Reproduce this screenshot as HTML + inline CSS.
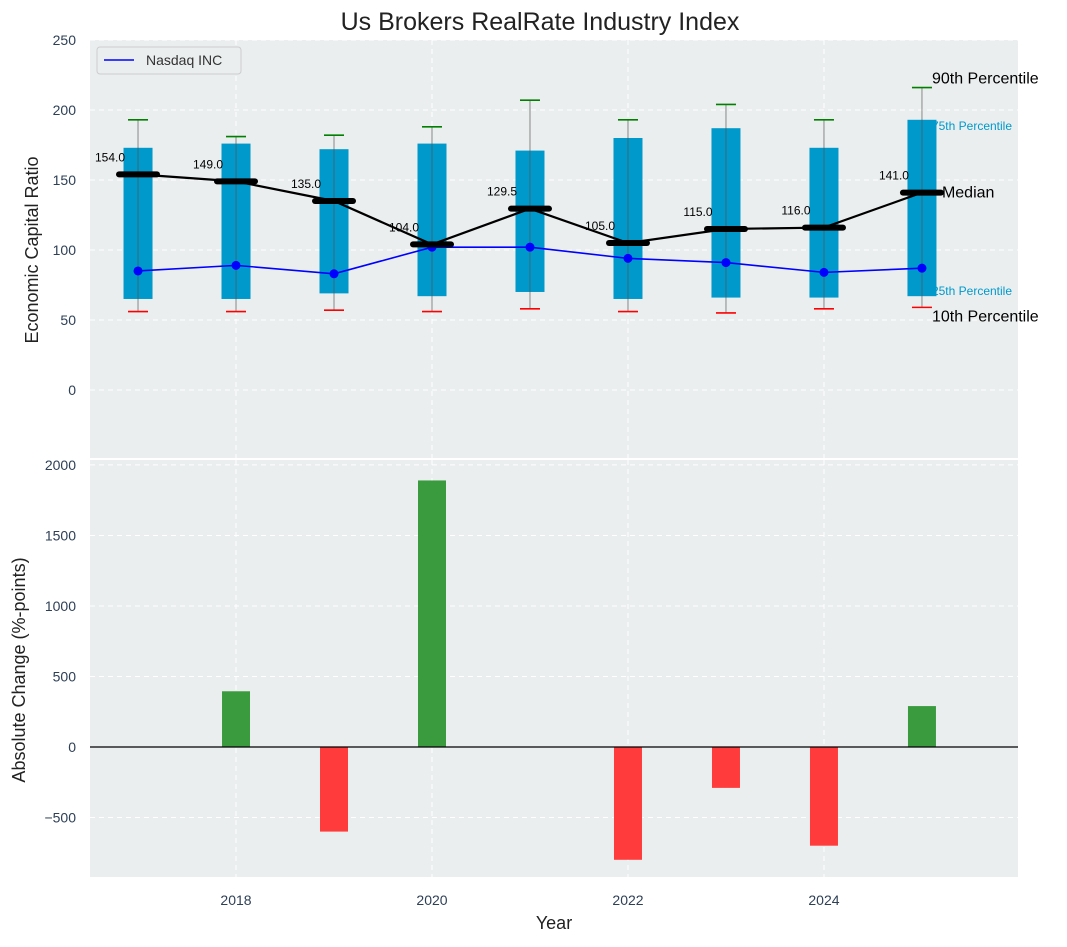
<!DOCTYPE html>
<html><head><meta charset="utf-8"><style>
body{margin:0;background:#fff;}
svg text{font-family:"Liberation Sans","DejaVu Sans",sans-serif;}
</style></head><body>
<svg id="c" width="1067" height="942" xmlns="http://www.w3.org/2000/svg"></svg>
<script>
const years=[2017,2018,2019,2020,2021,2022,2023,2024,2025];
const p10=[56,56,57,56,58,56,55,58,59];
const p25=[65,65,69,67,70,65,66,66,67];
const median=[154,149,135,104,129.5,105,115,116,141];
const p75=[173,176,172,176,171,180,187,173,193];
const p90=[193,181,182,188,207,193,204,193,216];
const nasdaq=[85,89,83,102,102,94,91,84,87];
const changes=[0,395,-600,1890,0,-800,-290,-700,290];
const topTicks=[0,50,100,150,200,250];
const botTicks=[-500,0,500,1000,1500,2000];
const xTicks=[2018,2020,2022,2024];

const NS='http://www.w3.org/2000/svg';
const svg=document.getElementById('c');
function el(t,a,p){const e=document.createElementNS(NS,t);for(const k in a)e.setAttribute(k,a[k]);(p||svg).appendChild(e);return e;}
const L=90,R=1018;
const X=v=>L+(v-2016.51)/(2025.98-2016.51)*(R-L);
const T0=40,T1=458,B0=460,B1=877;
const YT=v=>T0+(250-v)/(250+48.6)*(T1-T0);
const YB=v=>B0+(2035-v)/(2035+922)*(B1-B0);

el('rect',{x:L,y:T0,width:R-L,height:T1-T0,fill:'#eaeeef',});
el('rect',{x:L,y:B0,width:R-L,height:B1-B0,fill:'#eaeeef',});
xTicks.forEach(v=>{
  el('line',{x1:X(v),x2:X(v),y1:T0,y2:T1,stroke:'#fff','stroke-dasharray':'5,4','stroke-width':1});
  el('line',{x1:X(v),x2:X(v),y1:B0,y2:B1,stroke:'#fff','stroke-dasharray':'5,4','stroke-width':1});
});
topTicks.forEach(v=>{
  el('line',{x1:L,x2:R,y1:YT(v),y2:YT(v),stroke:'#fff','stroke-dasharray':'5,4'});
  const t=el('text',{x:L-14,y:YT(v)+5,'text-anchor':'end','font-size':14,fill:'#2e4057'});t.textContent=v;
  
  
});
botTicks.forEach(v=>{
  el('line',{x1:L,x2:R,y1:YB(v),y2:YB(v),stroke:'#fff','stroke-dasharray':'5,4'});
  const t=el('text',{x:L-14,y:YB(v)+5,'text-anchor':'end','font-size':14,fill:'#2e4057'});t.textContent=v<0?'\u2212'+(-v):v;
  
  
});
xTicks.forEach(v=>{
  const t=el('text',{x:X(v),y:905,'text-anchor':'middle','font-size':14,fill:'#2e4057'});t.textContent=v;
  
  
});
const li=years.length-1, lx=X(years[li]);
[[p90[li],'90th Percentile',16,'#000',-4],[p75[li],'75th Percentile',12,'#0099cc',10],[p25[li],'25th Percentile',12,'#0099cc',-1],[p10[li],'10th Percentile',16,'#000',14],[median[li],'Median',16,'#000',5]].forEach(d=>{
  const t=el('text',{x:d[1]=='Median'?lx+20:lx+10,y:YT(d[0])+d[4],'font-size':d[2],fill:d[3]});t.textContent=d[1];
  
  
});
years.forEach((y,i)=>{
  const cx=X(y);
  el('line',{x1:cx,x2:cx,y1:YT(p10[i]),y2:YT(p90[i]),stroke:'#888','stroke-width':1});
  const b=el('rect',{x:cx-14.5,y:YT(p75[i]),width:29,height:YT(p25[i])-YT(p75[i]),fill:'#0099cc'});
  
  
  el('line',{x1:cx,x2:cx,y1:YT(p25[i]),y2:YT(p75[i]),stroke:'#555','stroke-width':1,opacity:0.7});
  el('line',{x1:cx-10,x2:cx+10,y1:YT(p90[i]),y2:YT(p90[i]),stroke:'green','stroke-width':1.6});
  el('line',{x1:cx-10,x2:cx+10,y1:YT(p10[i]),y2:YT(p10[i]),stroke:'red','stroke-width':1.6});
});
el('polyline',{points:years.map((y,i)=>X(y)+','+YT(nasdaq[i])).join(' '),fill:'none',stroke:'blue','stroke-width':1.6,});
years.forEach((y,i)=>{const c=el('circle',{cx:X(y),cy:YT(nasdaq[i]),r:4.5,fill:'blue'});
  
  });
el('polyline',{points:years.map((y,i)=>X(y)+','+YT(median[i])).join(' '),fill:'none',stroke:'#000','stroke-width':2.2,});
years.forEach((y,i)=>{
  const m=el('line',{x1:X(y)-19,x2:X(y)+19,y1:YT(median[i]),y2:YT(median[i]),stroke:'#000','stroke-width':6,'stroke-linecap':'round'});
  
  
  const t=el('text',{x:X(y)-28,y:YT(median[i])-13,'text-anchor':'middle','font-size':12,fill:'#000'});t.textContent=median[i].toFixed(1);
  
  
});
years.forEach((y,i)=>{
  const v=changes[i];if(v===0)return;
  const b=el('rect',{x:X(y)-14,y:Math.min(YB(v),YB(0)),width:28,height:Math.abs(YB(v)-YB(0)),fill:v>0?'#3a9b3e':'#ff3b3b'});
  
  
});
el('line',{x1:L,x2:R,y1:YB(0),y2:YB(0),stroke:'#000','stroke-width':1.2,});
const g=el('g',{});
el('rect',{x:97,y:47,width:144,height:27,rx:3,fill:'#eaeeef',stroke:'#ccc'},g);
el('line',{x1:104,x2:134,y1:60,y2:60,stroke:'blue','stroke-width':1.6},g);
const lt=el('text',{x:146,y:65,'font-size':14,fill:'#333'},g);lt.textContent='Nasdaq INC';
const tt=el('text',{x:540,y:30,'text-anchor':'middle','font-size':25,fill:'#222',});tt.textContent='Us Brokers RealRate Industry Index';
const ya=el('text',{x:0,y:0,'text-anchor':'middle','font-size':18,fill:'#222',transform:'translate(38,250) rotate(-90)',});ya.textContent='Economic Capital Ratio';
const yb=el('text',{x:0,y:0,'text-anchor':'middle','font-size':18,fill:'#222',transform:'translate(25,670) rotate(-90)',});yb.textContent='Absolute Change (%-points)';
const xa=el('text',{x:554,y:929,'text-anchor':'middle','font-size':18,fill:'#222',});xa.textContent='Year';
</script>
</body></html>
